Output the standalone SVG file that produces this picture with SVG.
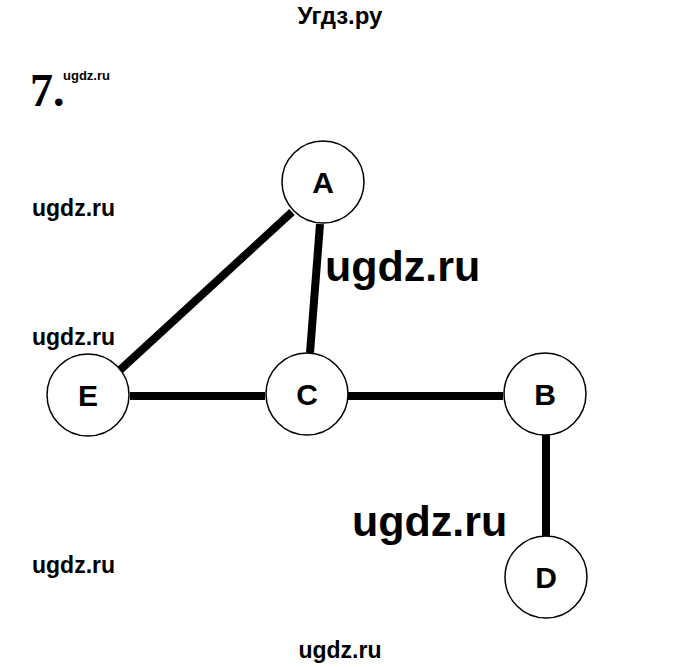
<svg xmlns="http://www.w3.org/2000/svg" width="680" height="667" viewBox="0 0 680 667">
<style>
.n{fill:#fff;stroke:#000;stroke-width:1.5}
.l{font-family:"Liberation Sans",Arial,sans-serif;font-size:30px;font-weight:bold;text-anchor:middle;dominant-baseline:central}
.w{font-family:"Liberation Sans",Arial,sans-serif;font-weight:bold;fill:#000}
.e{stroke:#000;stroke-width:8;stroke-linecap:butt}
</style>
<rect width="680" height="667" fill="#fff"/>
<text class="w" x="340" y="24" font-size="24" text-anchor="middle">Угдз.ру</text>
<text x="30" y="106" font-family="Liberation Serif,serif" font-weight="bold" font-size="46">7.</text>
<text class="w" x="63" y="80" font-size="13">ugdz.ru</text>
<text class="w" x="32" y="216" font-size="23">ugdz.ru</text>
<text class="w" x="325" y="281" font-size="43">ugdz.ru</text>
<text class="w" x="32" y="345" font-size="23">ugdz.ru</text>
<text class="w" x="352" y="536" font-size="43">ugdz.ru</text>
<text class="w" x="32" y="573" font-size="23">ugdz.ru</text>
<text class="w" x="340" y="658" font-size="23" text-anchor="middle">ugdz.ru</text>
<g id="edges">
<line class="e" x1="292" y1="212" x2="120" y2="370"/>
<line class="e" x1="320" y1="224" x2="310" y2="353"/>
<line class="e" x1="130" y1="396" x2="265" y2="396"/>
<line class="e" x1="348" y1="396" x2="503" y2="396"/>
<line class="e" x1="546" y1="435" x2="546" y2="537"/>
</g>
<g id="A"><circle class="n" cx="323" cy="182" r="41"/><text class="l" x="323" y="182">A</text></g>
<g id="E"><circle class="n" cx="88" cy="395" r="41"/><text class="l" x="88" y="395">E</text></g>
<g id="C"><circle class="n" cx="307" cy="394" r="41"/><text class="l" x="307" y="394">C</text></g>
<g id="B"><circle class="n" cx="545" cy="394" r="41"/><text class="l" x="545" y="394">B</text></g>
<g id="D"><circle class="n" cx="546" cy="577" r="41"/><text class="l" x="546" y="577">D</text></g>
</svg>
